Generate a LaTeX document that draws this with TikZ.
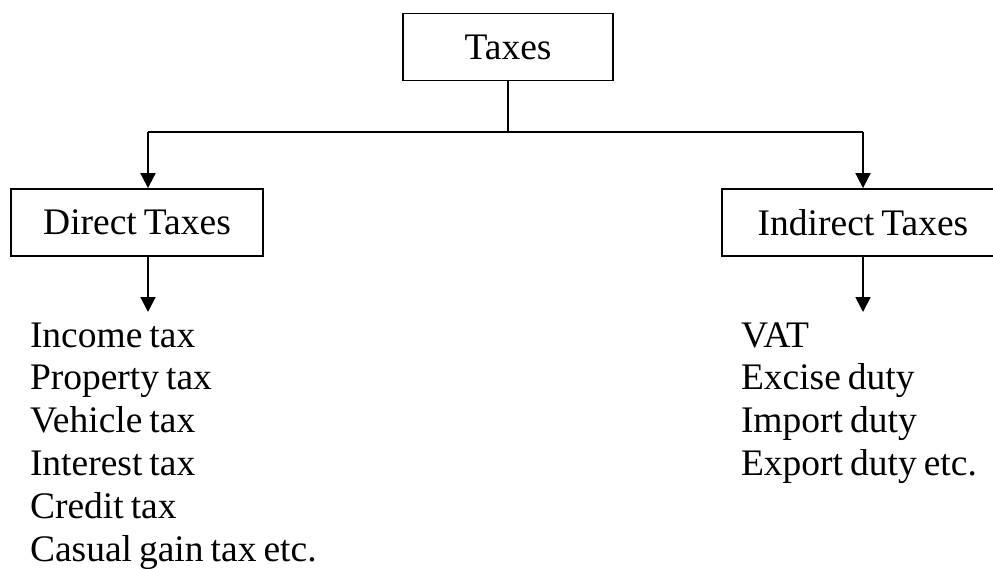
\documentclass[tikz,border=0pt]{standalone}
\usepackage{fontspec}
\setmainfont[WordSpace=0.75]{Liberation Serif}
\usetikzlibrary{positioning,arrows.meta}
\begin{document}
\begin{tikzpicture}[x=1pt, y=-1pt, line width=1.8pt, >={Triangle[width=15pt,length=15pt]},
  box/.style={rectangle, draw, inner sep=0pt, minimum height=67pt, font=\fontsize{37.5}{43}\selectfont},
  item/.style={text width=360pt, align=flush left, inner sep=0pt, text height=26pt, text depth=9pt, font=\fontsize{37.5}{43}\selectfont},
  node distance=42.8pt]
\useasboundingbox (0,0) rectangle (993,568);

% Top box
\node[box, minimum width=210pt] (taxes) at (508,47) {Taxes};

% Second level
\node[box, minimum width=252pt] (direct) at (137,222.5) {Direct Taxes};
\node[box, minimum width=282pt] (indirect) at (863,222.5) {Indirect Taxes};

% Branch points
\coordinate (split) at (508,132);
\coordinate (dleft) at (148,132);
\coordinate (dright) at (863,132);
\coordinate (dtip) at (148,312);
\coordinate (itip) at (863,312);

\draw (taxes.south) -- (split);
\draw (dleft) -- (dright);
\draw[->] (dleft) -- (direct.north -| dleft);
\draw[->] (dright) -- (indirect.north);
\draw[->] (direct.south -| dtip) -- (dtip);
\draw[->] (indirect.south) -- (itip);

% Direct taxes list
\node[item] (income) at (210,338.5) {Income tax};
\node[item, below of=income] (property) {Property tax};
\node[item, below of=property] (vehicle) {Vehicle tax};
\node[item, below of=vehicle] (interest) {Interest tax};
\node[item, below of=interest] (credit) {Credit tax};
\node[item, below of=credit] (casual) {Casual gain tax etc.};

% Indirect taxes list
\node[item] (vat) at (921,338.5) {VAT};
\node[item, below of=vat] (excise) {Excise duty};
\node[item, below of=excise] (import) {Import duty};
\node[item, below of=import] (export) {Export duty etc.};

\end{tikzpicture}
\end{document}
